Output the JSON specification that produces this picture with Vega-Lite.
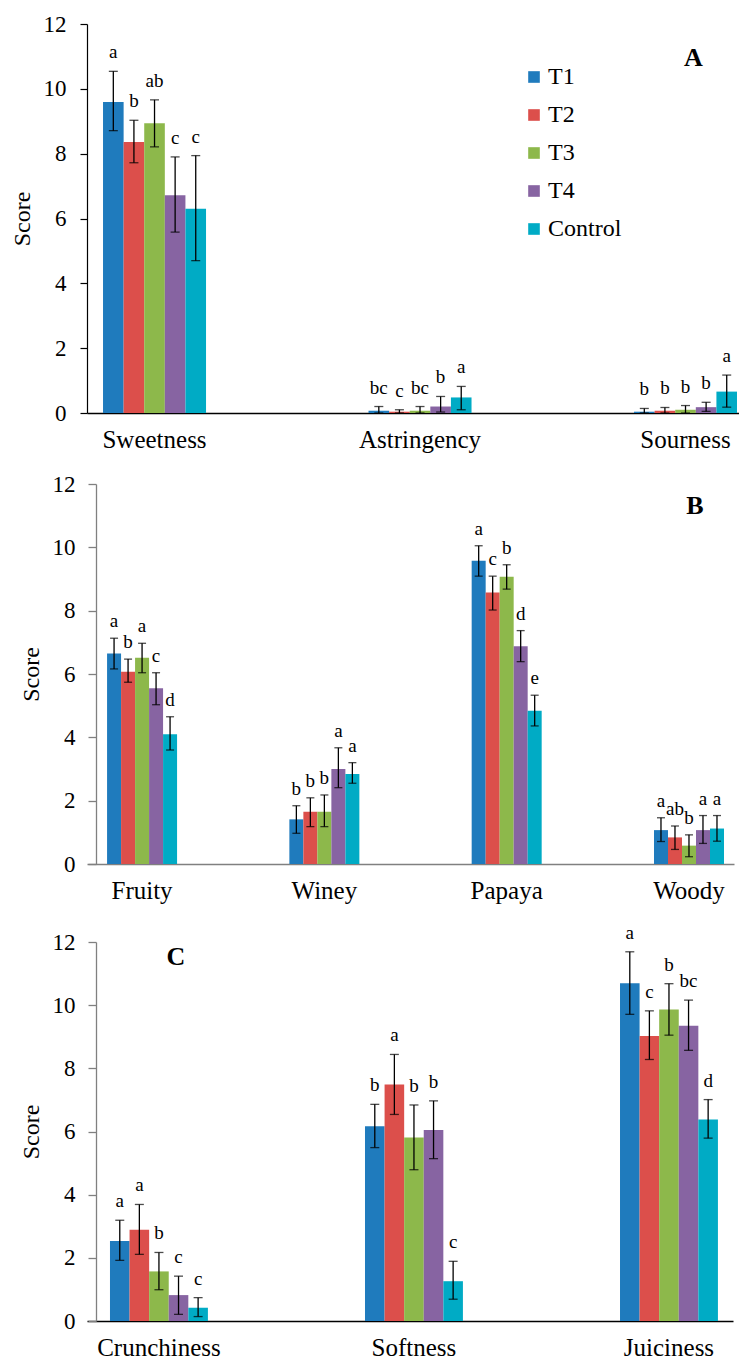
{
  "$schema": "https://vega.github.io/schema/vega-lite/v6.json",
  "autosize": {"type": "pad"},
  "padding": {"left": 10, "top": 13, "right": 0, "bottom": 0},
  "background": "white",
  "config": {
    "view": {"stroke": null},
    "font": "Liberation Serif",
    "text": {"font": "Liberation Serif"},
    "axis": {"labelFont": "Liberation Serif", "titleFont": "Liberation Serif"},
    "legend": {"labelFont": "Liberation Serif", "titleFont": "Liberation Serif"}
  },
  "bounds": "flush",
  "spacing": 71,
  "resolve": {"scale": {"xOffset": "independent", "color": "independent"}},
  "vconcat": [
    {
      "width": 652,
      "height": 389,
      "data": {"values": [
        {"attr": "Sweetness", "trt": "T1", "mean": 9.59, "lo": 8.71, "hi": 10.54, "sig": "a"},
        {"attr": "Sweetness", "trt": "T2", "mean": 8.36, "lo": 7.72, "hi": 9.03, "sig": "b"},
        {"attr": "Sweetness", "trt": "T3", "mean": 8.94, "lo": 8.21, "hi": 9.66, "sig": "ab"},
        {"attr": "Sweetness", "trt": "T4", "mean": 6.72, "lo": 5.58, "hi": 7.90, "sig": "c"},
        {"attr": "Sweetness", "trt": "Control", "mean": 6.30, "lo": 4.70, "hi": 7.94, "sig": "c"},
        {"attr": "Astringency", "trt": "T1", "mean": 0.07, "lo": 0.0, "hi": 0.2, "sig": "bc"},
        {"attr": "Astringency", "trt": "T2", "mean": 0.04, "lo": 0.0, "hi": 0.1, "sig": "c"},
        {"attr": "Astringency", "trt": "T3", "mean": 0.07, "lo": 0.0, "hi": 0.2, "sig": "bc"},
        {"attr": "Astringency", "trt": "T4", "mean": 0.2, "lo": 0.03, "hi": 0.51, "sig": "b"},
        {"attr": "Astringency", "trt": "Control", "mean": 0.48, "lo": 0.1, "hi": 0.82, "sig": "a"},
        {"attr": "Sourness", "trt": "T1", "mean": 0.04, "lo": 0.0, "hi": 0.14, "sig": "b"},
        {"attr": "Sourness", "trt": "T2", "mean": 0.07, "lo": 0.0, "hi": 0.17, "sig": "b"},
        {"attr": "Sourness", "trt": "T3", "mean": 0.1, "lo": 0.0, "hi": 0.23, "sig": "b"},
        {"attr": "Sourness", "trt": "T4", "mean": 0.18, "lo": 0.05, "hi": 0.33, "sig": "b"},
        {"attr": "Sourness", "trt": "Control", "mean": 0.66, "lo": 0.18, "hi": 1.17, "sig": "a"}
      ]},
      "resolve": {"scale": {"color": "independent"}},
      "layer": [
        {
          "mark": {"type": "bar"},
          "encoding": {
            "x": {"field": "attr", "type": "nominal", "sort": ["Sweetness", "Astringency", "Sourness"], "title": null,
                  "scale": {"paddingInner": 0.612, "paddingOuter": 0.0339, "align": 0.89},
                  "axis": {"ticks": false, "labelAngle": 0, "labelFontSize": 25, "labelFont": "Liberation Serif", "labelColor": "black", "labelPadding": 14, "domainColor": "#000000", "domainWidth": 1.3}},
            "xOffset": {"field": "trt", "type": "nominal", "sort": ["T1", "T2", "T3", "T4", "Control"]},
            "y": {"field": "mean", "type": "quantitative", "title": "Score",
                  "scale": {"domain": [0, 12], "nice": false},
                  "axis": {"values": [0, 2, 4, 6, 8, 10, 12], "grid": false, "tickSize": 7, "tickColor": "#000000", "domainColor": "#000000", "domainWidth": 1.2, "tickWidth": 1.2, "labelFontSize": 23, "labelFont": "Liberation Serif", "labelColor": "black", "labelPadding": 14, "titleFont": "Liberation Serif", "titleFontSize": 24, "titleFontWeight": "normal", "titleColor": "black", "titlePadding": 9}},
            "color": {"field": "trt", "type": "nominal", "sort": ["T1", "T2", "T3", "T4", "Control"],
                      "scale": {"domain": ["T1", "T2", "T3", "T4", "Control"], "range": ["#1f7bbd", "#dc4f4b", "#8db84b", "#8764a2", "#00abc5"]},
                      "legend": {"orient": "none", "legendX": 435, "legendY": 41, "title": null, "symbolType": "square", "symbolSize": 135, "symbolStrokeWidth": 0, "labelFont": "Liberation Serif", "labelFontSize": 24, "labelColor": "black", "labelOffset": 2, "rowPadding": 14, "padding": 0}}
          }
        },
        {
          "mark": {"type": "rule", "color": "black", "strokeWidth": 1.3},
          "encoding": {
            "x": {"field": "attr", "type": "nominal", "sort": ["Sweetness", "Astringency", "Sourness"], "title": null},
            "xOffset": {"field": "trt", "type": "nominal", "sort": ["T1", "T2", "T3", "T4", "Control"]},
            "y": {"field": "lo", "type": "quantitative", "title": "Score"},
            "y2": {"field": "hi"}
          }
        },
        {
          "mark": {"type": "tick", "color": "black", "size": 9, "thickness": 1.3, "orient": "horizontal"},
          "encoding": {
            "x": {"field": "attr", "type": "nominal", "sort": ["Sweetness", "Astringency", "Sourness"], "title": null},
            "xOffset": {"field": "trt", "type": "nominal", "sort": ["T1", "T2", "T3", "T4", "Control"]},
            "y": {"field": "hi", "type": "quantitative", "title": "Score"}
          }
        },
        {
          "mark": {"type": "tick", "color": "black", "size": 9, "thickness": 1.3, "orient": "horizontal"},
          "encoding": {
            "x": {"field": "attr", "type": "nominal", "sort": ["Sweetness", "Astringency", "Sourness"], "title": null},
            "xOffset": {"field": "trt", "type": "nominal", "sort": ["T1", "T2", "T3", "T4", "Control"]},
            "y": {"field": "lo", "type": "quantitative", "title": "Score"}
          }
        },
        {
          "mark": {"type": "text", "fontSize": 19, "font": "Liberation Serif", "color": "black", "baseline": "alphabetic", "dy": -13},
          "encoding": {
            "x": {"field": "attr", "type": "nominal", "sort": ["Sweetness", "Astringency", "Sourness"], "title": null},
            "xOffset": {"field": "trt", "type": "nominal", "sort": ["T1", "T2", "T3", "T4", "Control"]},
            "y": {"field": "hi", "type": "quantitative", "title": "Score"},
            "text": {"field": "sig"}
          }
        },
        {
          "data": {"values": [{"attr": "Sourness", "label": "A", "y": 10.96}]},
          "mark": {"type": "text", "fontSize": 26, "fontWeight": "bold", "font": "Liberation Serif", "color": "black", "baseline": "middle", "dx": 8},
          "encoding": {
            "x": {"field": "attr", "type": "nominal", "sort": ["Sweetness", "Astringency", "Sourness"], "title": null},
            "y": {"field": "y", "type": "quantitative", "title": "Score"},
            "text": {"field": "label"}
          }
        }
      ]
    },
    {
      "width": 647,
      "height": 380,
      "data": {"values": [
        {"attr": "Fruity", "trt": "T1", "mean": 6.65, "lo": 6.16, "hi": 7.13, "sig": "a"},
        {"attr": "Fruity", "trt": "T2", "mean": 6.07, "lo": 5.74, "hi": 6.47, "sig": "b"},
        {"attr": "Fruity", "trt": "T3", "mean": 6.51, "lo": 6.04, "hi": 6.97, "sig": "a"},
        {"attr": "Fruity", "trt": "T4", "mean": 5.55, "lo": 5.03, "hi": 6.04, "sig": "c"},
        {"attr": "Fruity", "trt": "Control", "mean": 4.10, "lo": 3.60, "hi": 4.65, "sig": "d"},
        {"attr": "Winey", "trt": "T1", "mean": 1.41, "lo": 0.97, "hi": 1.84, "sig": "b"},
        {"attr": "Winey", "trt": "T2", "mean": 1.65, "lo": 1.18, "hi": 2.09, "sig": "b"},
        {"attr": "Winey", "trt": "T3", "mean": 1.65, "lo": 1.18, "hi": 2.18, "sig": "b"},
        {"attr": "Winey", "trt": "T4", "mean": 3.00, "lo": 2.41, "hi": 3.67, "sig": "a"},
        {"attr": "Winey", "trt": "Control", "mean": 2.84, "lo": 2.55, "hi": 3.20, "sig": "a"},
        {"attr": "Papaya", "trt": "T1", "mean": 9.58, "lo": 9.09, "hi": 10.05, "sig": "a"},
        {"attr": "Papaya", "trt": "T2", "mean": 8.57, "lo": 8.02, "hi": 9.09, "sig": "c"},
        {"attr": "Papaya", "trt": "T3", "mean": 9.07, "lo": 8.68, "hi": 9.45, "sig": "b"},
        {"attr": "Papaya", "trt": "T4", "mean": 6.88, "lo": 6.39, "hi": 7.37, "sig": "d"},
        {"attr": "Papaya", "trt": "Control", "mean": 4.84, "lo": 4.36, "hi": 5.33, "sig": "e"},
        {"attr": "Woody", "trt": "T1", "mean": 1.07, "lo": 0.71, "hi": 1.46, "sig": "a"},
        {"attr": "Woody", "trt": "T2", "mean": 0.84, "lo": 0.46, "hi": 1.2, "sig": "ab"},
        {"attr": "Woody", "trt": "T3", "mean": 0.58, "lo": 0.23, "hi": 0.92, "sig": "b"},
        {"attr": "Woody", "trt": "T4", "mean": 1.07, "lo": 0.65, "hi": 1.53, "sig": "a"},
        {"attr": "Woody", "trt": "Control", "mean": 1.12, "lo": 0.72, "hi": 1.53, "sig": "a"}
      ]},
      "resolve": {"scale": {"color": "independent"}},
      "layer": [
        {
          "mark": {"type": "bar"},
          "encoding": {
            "x": {"field": "attr", "type": "nominal", "sort": ["Fruity", "Winey", "Papaya", "Woody"], "title": null,
                  "scale": {"paddingInner": 0.616, "paddingOuter": 0.0825, "align": 0.667},
                  "axis": {"ticks": false, "labelAngle": 0, "labelFontSize": 25, "labelFont": "Liberation Serif", "labelColor": "black", "labelPadding": 14, "domainColor": "#808080", "domainWidth": 1.5}},
            "xOffset": {"field": "trt", "type": "nominal", "sort": ["T1", "T2", "T3", "T4", "Control"]},
            "y": {"field": "mean", "type": "quantitative", "title": "Score",
                  "scale": {"domain": [0, 12], "nice": false},
                  "axis": {"offset": -9, "values": [0, 2, 4, 6, 8, 10, 12], "grid": false, "tickSize": 8, "tickColor": "#808080", "domainColor": "#808080", "domainWidth": 1.3, "tickWidth": 1.3, "labelFontSize": 23, "labelFont": "Liberation Serif", "labelColor": "black", "labelPadding": 13, "titleFont": "Liberation Serif", "titleFontSize": 24, "titleFontWeight": "normal", "titleColor": "black", "titlePadding": 9}},
            "color": {"field": "trt", "type": "nominal", "sort": ["T1", "T2", "T3", "T4", "Control"],
                      "scale": {"domain": ["T1", "T2", "T3", "T4", "Control"], "range": ["#1f7bbd", "#dc4f4b", "#8db84b", "#8764a2", "#00abc5"]},
                      "legend": null}
          }
        },
        {
          "mark": {"type": "rule", "color": "black", "strokeWidth": 1.3},
          "encoding": {
            "x": {"field": "attr", "type": "nominal", "sort": ["Fruity", "Winey", "Papaya", "Woody"], "title": null},
            "xOffset": {"field": "trt", "type": "nominal", "sort": ["T1", "T2", "T3", "T4", "Control"]},
            "y": {"field": "lo", "type": "quantitative", "title": "Score"},
            "y2": {"field": "hi"}
          }
        },
        {
          "mark": {"type": "tick", "color": "black", "size": 8, "thickness": 1.3, "orient": "horizontal"},
          "encoding": {
            "x": {"field": "attr", "type": "nominal", "sort": ["Fruity", "Winey", "Papaya", "Woody"], "title": null},
            "xOffset": {"field": "trt", "type": "nominal", "sort": ["T1", "T2", "T3", "T4", "Control"]},
            "y": {"field": "hi", "type": "quantitative", "title": "Score"}
          }
        },
        {
          "mark": {"type": "tick", "color": "black", "size": 8, "thickness": 1.3, "orient": "horizontal"},
          "encoding": {
            "x": {"field": "attr", "type": "nominal", "sort": ["Fruity", "Winey", "Papaya", "Woody"], "title": null},
            "xOffset": {"field": "trt", "type": "nominal", "sort": ["T1", "T2", "T3", "T4", "Control"]},
            "y": {"field": "lo", "type": "quantitative", "title": "Score"}
          }
        },
        {
          "mark": {"type": "text", "fontSize": 19, "font": "Liberation Serif", "color": "black", "baseline": "alphabetic", "dy": -11},
          "encoding": {
            "x": {"field": "attr", "type": "nominal", "sort": ["Fruity", "Winey", "Papaya", "Woody"], "title": null},
            "xOffset": {"field": "trt", "type": "nominal", "sort": ["T1", "T2", "T3", "T4", "Control"]},
            "y": {"field": "hi", "type": "quantitative", "title": "Score"},
            "text": {"field": "sig"}
          }
        },
        {
          "data": {"values": [{"attr": "Woody", "label": "B", "y": 11.31}]},
          "mark": {"type": "text", "fontSize": 26, "fontWeight": "bold", "font": "Liberation Serif", "color": "black", "baseline": "middle", "dx": 6},
          "encoding": {
            "x": {"field": "attr", "type": "nominal", "sort": ["Fruity", "Winey", "Papaya", "Woody"], "title": null},
            "y": {"field": "y", "type": "quantitative", "title": "Score"},
            "text": {"field": "label"}
          }
        }
      ]
    },
    {
      "width": 646,
      "height": 386,
      "data": {"values": [
        {"attr": "Crunchiness", "trt": "T1", "mean": 2.53, "lo": 1.92, "hi": 3.19, "sig": "a"},
        {"attr": "Crunchiness", "trt": "T2", "mean": 2.89, "lo": 2.11, "hi": 3.69, "sig": "a"},
        {"attr": "Crunchiness", "trt": "T3", "mean": 1.57, "lo": 0.99, "hi": 2.17, "sig": "b"},
        {"attr": "Crunchiness", "trt": "T4", "mean": 0.82, "lo": 0.21, "hi": 1.42, "sig": "c"},
        {"attr": "Crunchiness", "trt": "Control", "mean": 0.42, "lo": 0.14, "hi": 0.74, "sig": "c"},
        {"attr": "Softness", "trt": "T1", "mean": 6.17, "lo": 5.49, "hi": 6.86, "sig": "b"},
        {"attr": "Softness", "trt": "T2", "mean": 7.49, "lo": 6.54, "hi": 8.44, "sig": "a"},
        {"attr": "Softness", "trt": "T3", "mean": 5.81, "lo": 4.79, "hi": 6.84, "sig": "b"},
        {"attr": "Softness", "trt": "T4", "mean": 6.05, "lo": 5.14, "hi": 6.97, "sig": "b"},
        {"attr": "Softness", "trt": "Control", "mean": 1.26, "lo": 0.69, "hi": 1.89, "sig": "c"},
        {"attr": "Juiciness", "trt": "T1", "mean": 10.69, "lo": 9.71, "hi": 11.69, "sig": "a"},
        {"attr": "Juiciness", "trt": "T2", "mean": 9.02, "lo": 8.28, "hi": 9.82, "sig": "c"},
        {"attr": "Juiciness", "trt": "T3", "mean": 9.86, "lo": 9.05, "hi": 10.68, "sig": "b"},
        {"attr": "Juiciness", "trt": "T4", "mean": 9.35, "lo": 8.57, "hi": 10.16, "sig": "bc"},
        {"attr": "Juiciness", "trt": "Control", "mean": 6.38, "lo": 5.79, "hi": 7.01, "sig": "d"}
      ]},
      "resolve": {"scale": {"color": "independent"}},
      "layer": [
        {
          "mark": {"type": "bar"},
          "encoding": {
            "x": {"field": "attr", "type": "nominal", "sort": ["Crunchiness", "Softness", "Juiciness"], "title": null,
                  "scale": {"paddingInner": 0.616, "paddingOuter": 0.0746, "align": 0.604},
                  "axis": {"ticks": false, "labelAngle": 0, "labelFontSize": 25, "labelFont": "Liberation Serif", "labelColor": "black", "labelPadding": 14, "domainColor": "#000000", "domainWidth": 1.3}},
            "xOffset": {"field": "trt", "type": "nominal", "sort": ["T1", "T2", "T3", "T4", "Control"]},
            "y": {"field": "mean", "type": "quantitative", "title": "Score",
                  "scale": {"domain": [0, 12], "nice": false, "range": [386, 7]},
                  "axis": {"offset": -9, "values": [0, 2, 4, 6, 8, 10, 12], "grid": false, "tickSize": 8, "tickColor": "#808080", "domainColor": "#808080", "domainWidth": 1.3, "tickWidth": 1.3, "labelFontSize": 23, "labelFont": "Liberation Serif", "labelColor": "black", "labelPadding": 13, "titleFont": "Liberation Serif", "titleFontSize": 24, "titleFontWeight": "normal", "titleColor": "black", "titlePadding": 9}},
            "color": {"field": "trt", "type": "nominal", "sort": ["T1", "T2", "T3", "T4", "Control"],
                      "scale": {"domain": ["T1", "T2", "T3", "T4", "Control"], "range": ["#1f7bbd", "#dc4f4b", "#8db84b", "#8764a2", "#00abc5"]},
                      "legend": null}
          }
        },
        {
          "mark": {"type": "rule", "color": "black", "strokeWidth": 1.3},
          "encoding": {
            "x": {"field": "attr", "type": "nominal", "sort": ["Crunchiness", "Softness", "Juiciness"], "title": null},
            "xOffset": {"field": "trt", "type": "nominal", "sort": ["T1", "T2", "T3", "T4", "Control"]},
            "y": {"field": "lo", "type": "quantitative", "title": "Score"},
            "y2": {"field": "hi"}
          }
        },
        {
          "mark": {"type": "tick", "color": "black", "size": 9, "thickness": 1.3, "orient": "horizontal"},
          "encoding": {
            "x": {"field": "attr", "type": "nominal", "sort": ["Crunchiness", "Softness", "Juiciness"], "title": null},
            "xOffset": {"field": "trt", "type": "nominal", "sort": ["T1", "T2", "T3", "T4", "Control"]},
            "y": {"field": "hi", "type": "quantitative", "title": "Score"}
          }
        },
        {
          "mark": {"type": "tick", "color": "black", "size": 9, "thickness": 1.3, "orient": "horizontal"},
          "encoding": {
            "x": {"field": "attr", "type": "nominal", "sort": ["Crunchiness", "Softness", "Juiciness"], "title": null},
            "xOffset": {"field": "trt", "type": "nominal", "sort": ["T1", "T2", "T3", "T4", "Control"]},
            "y": {"field": "lo", "type": "quantitative", "title": "Score"}
          }
        },
        {
          "mark": {"type": "text", "fontSize": 19, "font": "Liberation Serif", "color": "black", "baseline": "alphabetic", "dy": -13},
          "encoding": {
            "x": {"field": "attr", "type": "nominal", "sort": ["Crunchiness", "Softness", "Juiciness"], "title": null},
            "xOffset": {"field": "trt", "type": "nominal", "sort": ["T1", "T2", "T3", "T4", "Control"]},
            "y": {"field": "hi", "type": "quantitative", "title": "Score"},
            "text": {"field": "sig"}
          }
        },
        {
          "data": {"values": [{"attr": "Crunchiness", "label": "C", "y": 11.53}]},
          "mark": {"type": "text", "fontSize": 26, "fontWeight": "bold", "font": "Liberation Serif", "color": "black", "baseline": "middle", "dx": 17},
          "encoding": {
            "x": {"field": "attr", "type": "nominal", "sort": ["Crunchiness", "Softness", "Juiciness"], "title": null},
            "y": {"field": "y", "type": "quantitative", "title": "Score"},
            "text": {"field": "label"}
          }
        }
      ]
    }
  ]
}
